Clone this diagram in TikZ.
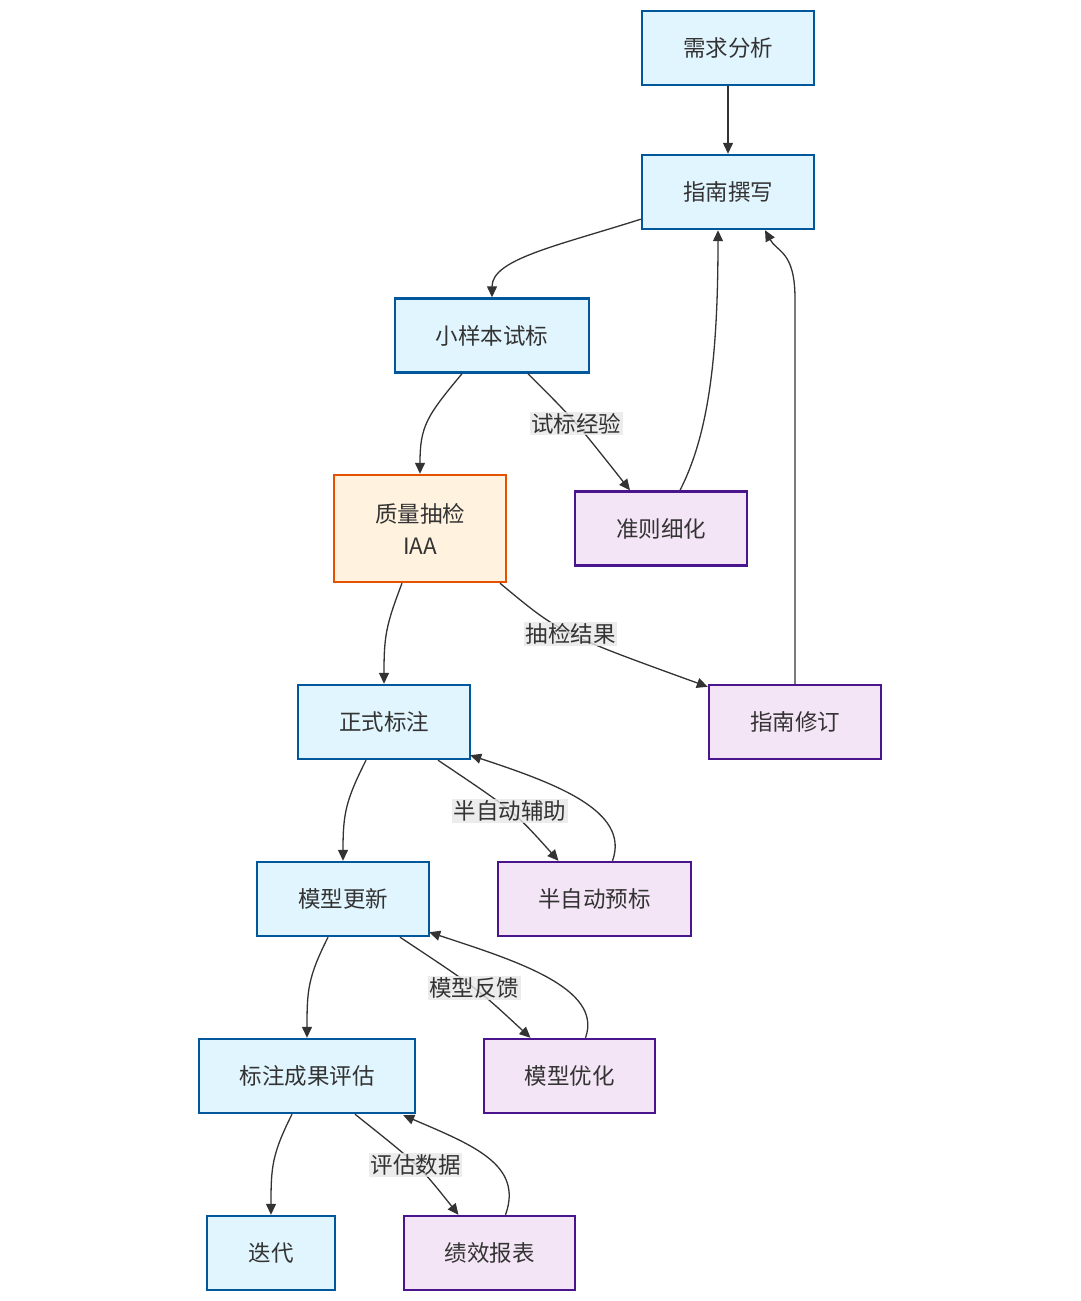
\documentclass[tikz,border=0pt]{standalone}
\usepackage{fontspec}
\setmainfont{Noto Sans CJK SC}
\usetikzlibrary{arrows.meta}
\definecolor{bfill}{HTML}{E1F5FE}
\definecolor{bline}{HTML}{01579B}
\definecolor{ofill}{HTML}{FFF3E0}
\definecolor{oline}{HTML}{E65100}
\definecolor{pfill}{HTML}{F3E5F5}
\definecolor{pline}{HTML}{4A148C}
\definecolor{txt}{HTML}{333333}
\definecolor{lbl}{HTML}{E8E8E8}
\begin{document}
\begin{tikzpicture}[x=1pt,y=-1pt,
  box/.style={draw, line width=2.4pt, inner sep=0pt, minimum height=74pt, text=txt,
    font=\fontsize{22.5}{32}\selectfont, align=center},
  bluebox/.style={box, fill=bfill, draw=bline},
  orangebox/.style={box, fill=ofill, draw=oline},
  purplebox/.style={box, fill=pfill, draw=pline},
  edge/.style={draw=txt, line width=1.3pt, -{Triangle[length=11pt,width=10pt]}},
  elabel/.style={fill=lbl, fill opacity=0.8, text opacity=1, text=txt, inner sep=1.5pt, font=\fontsize{22.5}{26}\selectfont}
]
\useasboundingbox (0,0) rectangle (1080,1301);
\fill[white] (0,0) rectangle (1080,1301);

\node[bluebox, minimum width=172pt] (xq) at (728,48) {需求分析};
\node[bluebox, minimum width=172pt] (zn) at (728,192) {指南撰写};
\node[bluebox, minimum width=194pt] (xs) at (492,335.5) {小样本试标};
\node[orangebox, minimum width=172pt, minimum height=107pt] (zl) at (420,528.5) {质量抽检\\IAA};
\node[purplebox, minimum width=172pt] (zz) at (661,528.5) {准则细化};
\node[bluebox, minimum width=172pt] (zq) at (384,722) {正式标注};
\node[purplebox, minimum width=172pt] (xd) at (795,722) {指南修订};
\node[bluebox, minimum width=172pt] (mg) at (343,899) {模型更新};
\node[purplebox, minimum width=193pt] (bz) at (594.5,899) {半自动预标};
\node[bluebox, minimum width=216pt] (pg) at (307,1076) {标注成果评估};
\node[purplebox, minimum width=171pt] (mo) at (569.5,1076) {模型优化};
\node[bluebox, minimum width=128pt] (dd) at (271,1253) {迭代};
\node[purplebox, minimum width=171pt] (jx) at (489.5,1253) {绩效报表};

% edges
\draw[edge] (xq) -- (zn);
\draw[edge] ([yshift=11pt]zn.south west) .. controls +(-85,27) and +(0,-38) .. (xs.north);
\draw[edge] ([xshift=-30pt]xs.south) .. controls +(-35,42) and +(0,-48) .. (zl.north);
\draw[edge] ([xshift=36pt]xs.south) .. controls +(47,47) .. node[elabel, pos=0.5] {试标经验} ([xshift=-31pt]zz.north);
\draw[edge] ([xshift=19pt]zz.north) .. controls +(28,-55) and +(0,130) .. ([xshift=-10pt]zn.south);
\draw[edge] ([xshift=-18pt]zl.south) .. controls +(-16,42) and +(0,-48) .. (zq.north);
\draw[edge] ([xshift=80pt]zl.south) .. controls +(60,50) .. node[elabel, pos=0.5] {抽检结果} ([yshift=-3pt]xd.north west);
\draw[edge] (xd.north) -- ++(0,-385) .. controls +(0,-48) and +(12,22) .. ([xshift=37pt]zn.south);
\draw[edge] ([xshift=-18pt]zq.south) .. controls +(-20,40) and +(0,-48) .. (mg.north);
\draw[edge] ([xshift=54pt]zq.south) .. controls +(76,51) .. node[elabel, pos=0.5] {半自动辅助} ([xshift=-36pt]bz.north);
\draw[edge] ([xshift=18pt]bz.north) .. controls +(18,-50) and +(85,28) .. ([xshift=-1pt,yshift=5pt]zq.south east);
\draw[edge] ([xshift=-15pt]mg.south) .. controls +(-20,40) and +(0,-48) .. (pg.north);
\draw[edge] ([xshift=57pt]mg.south) .. controls +(77,51) .. node[elabel, pos=0.5] {模型反馈} ([xshift=-39pt]mo.north);
\draw[edge] ([xshift=16pt]mo.north) .. controls +(18,-50) and +(85,28) .. ([xshift=-1pt,yshift=5pt]mg.south east);
\draw[edge] ([xshift=-15pt]pg.south) .. controls +(-20,40) and +(0,-48) .. (dd.north);
\draw[edge] ([xshift=48pt]pg.south) .. controls +(64,51) .. node[elabel, pos=0.5] {评估数据} ([xshift=-31pt]jx.north);
\draw[edge] ([xshift=16pt]jx.north) .. controls +(18,-50) and +(70,30) .. ([xshift=-13pt,yshift=-1pt]pg.south east);
\end{tikzpicture}
\end{document}
